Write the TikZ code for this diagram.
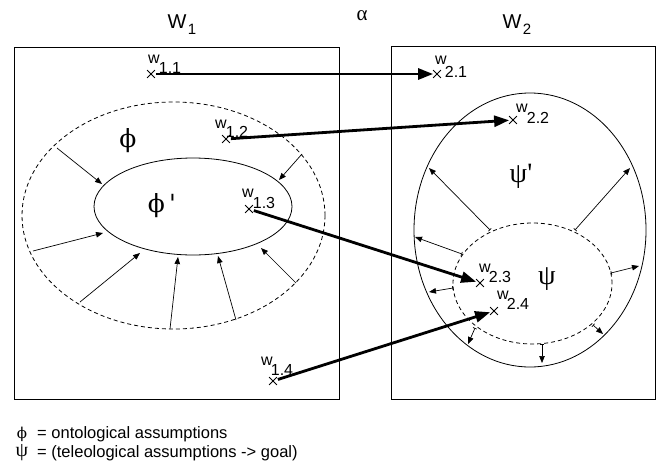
\documentclass[tikz,border=0pt]{standalone}
\usepackage{fontspec}
\setmainfont{Liberation Sans}
\newfontfamily\grk{DejaVu Serif}
\newfontfamily\tms{Liberation Serif}
\usetikzlibrary{arrows.meta,shapes.misc}
\begin{document}
\begin{tikzpicture}[x=1pt,y=-1pt,
  frame/.style={draw,line width=0.8pt},
  solidell/.style={draw,line width=0.8pt},
  dashell/.style={draw,line width=0.8pt,dash pattern=on 4pt off 3pt},
  xmark/.style={draw,cross out,line width=0.8pt,minimum size=7pt,inner sep=0pt},
  bigarrow/.style={line width=2.8pt,-{Triangle[length=15pt,width=11pt]},shorten <=1pt,shorten >=0pt},
  inarrow/.style={line width=0.7pt,-{Triangle[length=7pt,width=5.5pt]}},
  outarrow/.style={line width=0.7pt,{Bar[width=4pt]}-{Triangle[length=7pt,width=5.5pt]}},
  wl/.style={inner sep=0pt,font=\fontsize{16}{16}\selectfont},
  title/.style={inner sep=0pt,font=\fontsize{20}{20}\selectfont},
  tsub/.style={inner sep=0pt,font=\fontsize{15}{15}\selectfont},
  greek/.style={inner sep=0pt},
  legend/.style={inner sep=0pt,anchor=west,font=\fontsize{16.5}{16.5}\selectfont}]
\useasboundingbox (0,0) rectangle (660,474);

% frames
\draw[frame] (14,47) rectangle (339.5,399);
\draw[frame] (391,46) rectangle (655,399);

% titles
\node[title] (W1) at (177,22) {W};
\node[tsub] (W1s) at (192,29) {1};
\node[title] (W2) at (512,22) {W};
\node[tsub] (W2s) at (527,29) {2};
\node[inner sep=0pt,font=\tms\fontsize{21}{21}\selectfont] (alpha) at (362,16) {α};

% ellipses
\draw[dashell] (173.5,215.5) ellipse [x radius=151.5pt, y radius=113.5pt];
\draw[solidell] (193,206.5) ellipse [x radius=99pt, y radius=48.5pt];
\draw[solidell] (530,230) ellipse [x radius=116pt, y radius=137pt];
\draw[dashell] (532.5,283.5) ellipse [x radius=79.5pt, y radius=60.5pt];

% greek labels
\node[greek,font=\grk\fontsize{25}{25}\selectfont] (phi) at (128,141) {ϕ};
\node[greek,font=\grk\fontsize{25}{25}\selectfont] (phip) at (162,206) {ϕ\,'};
\node[greek,font=\tms\fontsize{28}{28}\selectfont] (psip) at (521,176) {ψ'};
\node[greek,font=\tms\fontsize{28}{28}\selectfont] (psi) at (547,279) {ψ};

% inward arrows (phi)
\draw[inarrow] (57,148) -- (102,184);
\draw[inarrow] (302,154) -- (279,180);
\draw[inarrow] (33,251) -- (103,233);
\draw[inarrow] (80,302) -- (140,253);
\draw[inarrow] (170,329) -- (178,257);
\draw[inarrow] (236,320) -- (218,256);
\draw[inarrow] (296,283) -- (261,248);

% outward arrows (psi)
\draw[outarrow] (490,230) -- (429,168);
\draw[outarrow] (575,230) -- (630,168);
\draw[outarrow] (462,254) -- (415,237);
\draw[outarrow] (453,288) -- (429,292);
\draw[outarrow] (611,273) -- (639,266);
\draw[outarrow] (593,325) -- (603,334);
\draw[outarrow] (542,344) -- (542,363);
\draw[outarrow] (475,328) -- (468,344);

% points
\node[xmark] (p11) at (151,74) {};
\node[xmark] (p12) at (226,139) {};
\node[xmark] (p13) at (249,209) {};
\node[xmark] (p14) at (273,381) {};
\node[xmark] (p21) at (437,74) {};
\node[xmark] (p22) at (513,120) {};
\node[xmark] (p23) at (480,283) {};
\node[xmark] (p24) at (494,311) {};

% point labels
\node[wl] (l11w) at (154,59) {w};  \node[wl] (l11s) at (170,68) {1.1};
\node[wl] (l12w) at (221,124) {w}; \node[wl] (l12s) at (237,132) {1.2};
\node[wl] (l13w) at (248,193) {w}; \node[wl] (l13s) at (264,203) {1.3};
\node[wl] (l14w) at (267,361) {w}; \node[wl] (l14s) at (282,370) {1.4};
\node[wl] (l21w) at (441,60) {w};  \node[wl] (l21s) at (456,72) {2.1};
\node[wl] (l22w) at (522,108) {w}; \node[wl] (l22s) at (538,118) {2.2};
\node[wl] (l23w) at (485,268) {w}; \node[wl] (l23s) at (500,277) {2.3};
\node[wl] (l24w) at (503,295) {w}; \node[wl] (l24s) at (518,304) {2.4};

% mapping arrows
\draw[bigarrow] (p11) -- (p21);
\draw[bigarrow] (p12) -- (p22);
\draw[bigarrow] (p13) -- (p23);
\draw[bigarrow] (p14) -- (p24);

% legend
\node[greek,font=\grk\fontsize{15}{15}\selectfont] (lphi) at (22,434) {ϕ};
\node[legend] (lt1) at (37,434) {= ontological assumptions};
\node[greek,font=\tms\fontsize{20}{20}\selectfont] (lpsi) at (22,453) {ψ};
\node[legend] (lt2) at (37,453) {= (teleological assumptions -> goal)};
\end{tikzpicture}
\end{document}
